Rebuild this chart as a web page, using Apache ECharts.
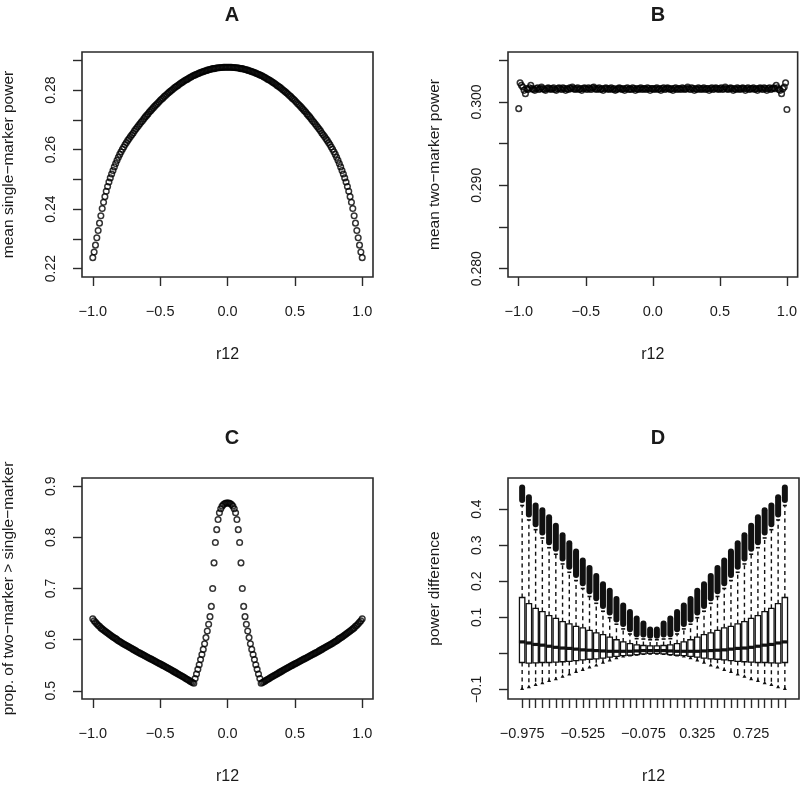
<!DOCTYPE html>
<html><head><meta charset="utf-8">
<script src="https://cdn.jsdelivr.net/npm/echarts@6/dist/echarts.min.js"></script>
<style>html,body{margin:0;padding:0;background:#fff}#c{width:800px;height:786px}</style>
</head><body><div id="c"></div>
<script>
// ---------- data ----------
const r12 = [
-1.00,-0.99,-0.98,-0.97,-0.96,-0.95,-0.94,-0.93,-0.92,-0.91,
-0.90,-0.89,-0.88,-0.87,-0.86,-0.85,-0.84,-0.83,-0.82,-0.81,
-0.80,-0.79,-0.78,-0.77,-0.76,-0.75,-0.74,-0.73,-0.72,-0.71,
-0.70,-0.69,-0.68,-0.67,-0.66,-0.65,-0.64,-0.63,-0.62,-0.61,
-0.60,-0.59,-0.58,-0.57,-0.56,-0.55,-0.54,-0.53,-0.52,-0.51,
-0.50,-0.49,-0.48,-0.47,-0.46,-0.45,-0.44,-0.43,-0.42,-0.41,
-0.40,-0.39,-0.38,-0.37,-0.36,-0.35,-0.34,-0.33,-0.32,-0.31,
-0.30,-0.29,-0.28,-0.27,-0.26,-0.25,-0.24,-0.23,-0.22,-0.21,
-0.20,-0.19,-0.18,-0.17,-0.16,-0.15,-0.14,-0.13,-0.12,-0.11,
-0.10,-0.09,-0.08,-0.07,-0.06,-0.05,-0.04,-0.03,-0.02,-0.01,
0.00,
0.01,0.02,0.03,0.04,0.05,0.06,0.07,0.08,0.09,0.10,
0.11,0.12,0.13,0.14,0.15,0.16,0.17,0.18,0.19,0.20,
0.21,0.22,0.23,0.24,0.25,0.26,0.27,0.28,0.29,0.30,
0.31,0.32,0.33,0.34,0.35,0.36,0.37,0.38,0.39,0.40,
0.41,0.42,0.43,0.44,0.45,0.46,0.47,0.48,0.49,0.50,
0.51,0.52,0.53,0.54,0.55,0.56,0.57,0.58,0.59,0.60,
0.61,0.62,0.63,0.64,0.65,0.66,0.67,0.68,0.69,0.70,
0.71,0.72,0.73,0.74,0.75,0.76,0.77,0.78,0.79,0.80,
0.81,0.82,0.83,0.84,0.85,0.86,0.87,0.88,0.89,0.90,
0.91,0.92,0.93,0.94,0.95,0.96,0.97,0.98,0.99,1.00];

// Panel A: mean single-marker power
const meanSinglePower = [
0.2237,0.2256,0.2279,0.2304,0.2328,0.2353,0.2378,0.2402,0.2423,0.2442,
0.2460,0.2476,0.2491,0.2505,0.2518,0.2530,0.2542,0.2553,0.2564,0.2574,
0.2584,0.2593,0.2601,0.2609,0.2617,0.2624,0.2631,0.2637,0.2644,0.2650,
0.2656,0.2663,0.2669,0.2675,0.2681,0.2687,0.2693,0.2698,0.2704,0.2710,
0.2715,0.2720,0.2726,0.2731,0.2736,0.2741,0.2746,0.2751,0.2755,0.2760,
0.2765,0.2769,0.2773,0.2778,0.2782,0.2786,0.2790,0.2794,0.2798,0.2801,
0.2805,0.2809,0.2812,0.2815,0.2819,0.2822,0.2825,0.2828,0.2831,0.2834,
0.2836,0.2839,0.2842,0.2844,0.2847,0.2849,0.2851,0.2853,0.2855,0.2857,
0.2859,0.2861,0.2862,0.2864,0.2865,0.2867,0.2868,0.2869,0.2871,0.2872,
0.2872,0.2873,0.2874,0.2875,0.2875,0.2876,0.2876,0.2877,0.2877,0.2877,
0.2877,
0.2877,0.2877,0.2877,0.2876,0.2876,0.2875,0.2875,0.2874,0.2873,0.2872,
0.2872,0.2871,0.2869,0.2868,0.2867,0.2865,0.2864,0.2862,0.2861,0.2859,
0.2857,0.2855,0.2853,0.2851,0.2849,0.2847,0.2844,0.2842,0.2839,0.2836,
0.2834,0.2831,0.2828,0.2825,0.2822,0.2819,0.2815,0.2812,0.2809,0.2805,
0.2801,0.2798,0.2794,0.2790,0.2786,0.2782,0.2778,0.2773,0.2769,0.2765,
0.2760,0.2755,0.2751,0.2746,0.2741,0.2736,0.2731,0.2726,0.2720,0.2715,
0.2710,0.2704,0.2698,0.2693,0.2687,0.2681,0.2675,0.2669,0.2663,0.2656,
0.2650,0.2644,0.2637,0.2631,0.2624,0.2617,0.2609,0.2601,0.2593,0.2584,
0.2574,0.2564,0.2553,0.2542,0.2530,0.2518,0.2505,0.2491,0.2476,0.2460,
0.2442,0.2423,0.2402,0.2378,0.2353,0.2328,0.2304,0.2279,0.2256,0.2237];

// Panel B: mean two-marker power
const meanTwoPower = [
0.2992,0.3023,0.3020,0.3018,0.3014,0.3010,0.3016,0.3015,0.3017,0.3020,
0.3016,0.3015,0.3014,0.3016,0.3017,0.3015,0.3016,0.3018,0.3016,0.3015,
0.3014,0.3016,0.3017,0.3016,0.3015,0.3016,0.3017,0.3015,0.3014,0.3016,
0.3017,0.3016,0.3015,0.3017,0.3016,0.3014,0.3016,0.3015,0.3017,0.3016,
0.3018,0.3016,0.3015,0.3016,0.3017,0.3015,0.3016,0.3014,0.3016,0.3017,
0.3016,0.3015,0.3017,0.3016,0.3015,0.3017,0.3018,0.3016,0.3015,0.3016,
0.3017,0.3015,0.3016,0.3014,0.3016,0.3017,0.3016,0.3015,0.3016,0.3017,
0.3015,0.3016,0.3014,0.3015,0.3016,0.3017,0.3016,0.3015,0.3016,0.3014,
0.3016,0.3017,0.3015,0.3016,0.3015,0.3017,0.3016,0.3014,0.3016,0.3015,
0.3016,0.3017,0.3015,0.3016,0.3016,0.3015,0.3017,0.3016,0.3014,0.3016,
0.3016,
0.3015,0.3016,0.3017,0.3015,0.3016,0.3014,0.3016,0.3017,0.3015,0.3016,
0.3017,0.3016,0.3015,0.3016,0.3014,0.3016,0.3017,0.3015,0.3016,0.3016,
0.3015,0.3017,0.3016,0.3015,0.3016,0.3018,0.3016,0.3015,0.3017,0.3016,
0.3014,0.3016,0.3015,0.3017,0.3016,0.3015,0.3016,0.3017,0.3015,0.3016,
0.3016,0.3014,0.3016,0.3017,0.3015,0.3016,0.3017,0.3016,0.3015,0.3016,
0.3017,0.3015,0.3016,0.3018,0.3016,0.3015,0.3016,0.3017,0.3016,0.3014,
0.3016,0.3015,0.3017,0.3016,0.3015,0.3016,0.3017,0.3016,0.3014,0.3016,
0.3017,0.3015,0.3016,0.3016,0.3017,0.3015,0.3016,0.3014,0.3016,0.3017,
0.3016,0.3015,0.3017,0.3016,0.3014,0.3016,0.3017,0.3015,0.3016,0.3017,
0.3016,0.3020,0.3017,0.3015,0.3014,0.3010,0.3016,0.3018,0.3023,0.2991];

// Panel C: proportion two-marker > single-marker
const propTwoGtSingle = [
0.641,0.637,0.634,0.631,0.628,0.626,0.623,0.621,0.619,0.617,
0.615,0.613,0.611,0.609,0.607,0.605,0.6035,0.602,0.600,0.598,
0.5965,0.595,0.593,0.5915,0.590,0.5885,0.587,0.5855,0.584,0.5825,
0.581,0.5795,0.578,0.5765,0.575,0.5736,0.5722,0.5708,0.5694,0.568,
0.5666,0.5652,0.5638,0.5624,0.561,0.5596,0.5582,0.5568,0.5554,0.554,
0.5526,0.5512,0.5497,0.5483,0.5468,0.5454,0.5439,0.5425,0.5410,0.5395,
0.5380,0.5365,0.5350,0.5335,0.5320,0.5305,0.5289,0.5274,0.5258,0.5242,
0.5226,0.5210,0.5194,0.5178,0.5162,0.5148,0.524,0.533,0.542,0.551,
0.561,0.571,0.581,0.592,0.604,0.617,0.630,0.645,0.665,0.700,
0.750,0.790,0.815,0.835,0.848,0.856,0.861,0.864,0.866,0.867,
0.867,
0.867,0.866,0.864,0.861,0.856,0.848,0.835,0.815,0.790,0.750,
0.700,0.665,0.645,0.630,0.617,0.604,0.592,0.581,0.571,0.561,
0.551,0.542,0.533,0.524,0.5148,0.5162,0.5178,0.5194,0.5210,0.5226,
0.5242,0.5258,0.5274,0.5289,0.5305,0.5320,0.5335,0.5350,0.5365,0.5380,
0.5395,0.5410,0.5425,0.5439,0.5454,0.5468,0.5483,0.5497,0.5512,0.5526,
0.554,0.5554,0.5568,0.5582,0.5596,0.561,0.5624,0.5638,0.5652,0.5666,
0.568,0.5694,0.5708,0.5722,0.5736,0.575,0.5765,0.578,0.5795,0.581,
0.5825,0.584,0.5855,0.587,0.5885,0.590,0.5915,0.593,0.595,0.5965,
0.598,0.600,0.602,0.6035,0.605,0.607,0.609,0.611,0.613,0.615,
0.617,0.619,0.621,0.623,0.626,0.628,0.631,0.634,0.637,0.641];

// Panel D: boxplots of power difference by r12 group
const dGroups = [-0.975,-0.925,-0.875,-0.825,-0.775,-0.725,-0.675,-0.625,-0.575,-0.525,
-0.475,-0.425,-0.375,-0.325,-0.275,-0.225,-0.175,-0.125,-0.075,-0.025,
0.025,0.075,0.125,0.175,0.225,0.275,0.325,0.375,0.425,0.475,
0.525,0.575,0.625,0.675,0.725,0.775,0.825,0.875,0.925,0.975];
const dLowWhisker = [-0.100,-0.095,-0.089,-0.084,-0.078,-0.073,-0.066,-0.060,-0.053,-0.047,
-0.040,-0.035,-0.027,-0.021,-0.015,-0.010,-0.007,-0.005,-0.003,-0.002,
-0.002,-0.003,-0.005,-0.007,-0.010,-0.015,-0.021,-0.027,-0.035,-0.040,
-0.047,-0.053,-0.060,-0.066,-0.073,-0.078,-0.084,-0.089,-0.095,-0.100];
const dQ1 = [-0.025,-0.027,-0.026,-0.025,-0.025,-0.024,-0.023,-0.022,-0.020,-0.018,
-0.016,-0.015,-0.013,-0.010,-0.008,-0.006,-0.005,-0.003,-0.001,0.000,
0.000,-0.001,-0.003,-0.005,-0.006,-0.008,-0.010,-0.013,-0.015,-0.016,
-0.018,-0.020,-0.022,-0.023,-0.024,-0.025,-0.025,-0.026,-0.027,-0.025];
const dMedian = [0.032,0.029,0.025,0.023,0.020,0.017,0.015,0.014,0.012,0.010,
0.009,0.008,0.007,0.006,0.006,0.006,0.006,0.007,0.008,0.008,
0.008,0.008,0.007,0.006,0.006,0.006,0.006,0.007,0.008,0.009,
0.010,0.012,0.014,0.015,0.017,0.020,0.023,0.025,0.029,0.032];
const dQ3 = [0.155,0.138,0.125,0.116,0.105,0.097,0.088,0.082,0.075,0.071,
0.064,0.057,0.052,0.045,0.038,0.032,0.027,0.024,0.022,0.021,
0.021,0.022,0.024,0.027,0.032,0.038,0.045,0.052,0.057,0.064,
0.071,0.075,0.082,0.088,0.097,0.105,0.116,0.125,0.138,0.155];
const dUpWhisker = [0.410,0.370,0.343,0.320,0.293,0.275,0.248,0.225,0.202,0.180,
0.158,0.139,0.117,0.099,0.081,0.068,0.054,0.041,0.040,0.038,
0.038,0.040,0.041,0.054,0.068,0.081,0.099,0.117,0.139,0.158,
0.180,0.202,0.225,0.248,0.275,0.293,0.320,0.343,0.370,0.410];
const dOutlierLow = [0.417,0.377,0.350,0.327,0.300,0.282,0.255,0.232,0.209,0.186,
0.164,0.145,0.123,0.105,0.086,0.073,0.059,0.045,0.044,0.041,
0.041,0.044,0.045,0.059,0.073,0.086,0.105,0.123,0.145,0.164,
0.186,0.209,0.232,0.255,0.282,0.300,0.327,0.350,0.377,0.417];
const dOutlierHigh = [0.468,0.441,0.418,0.405,0.386,0.362,0.336,0.314,0.291,0.266,
0.245,0.223,0.200,0.182,0.159,0.141,0.123,0.105,0.091,0.075,
0.075,0.091,0.105,0.123,0.141,0.159,0.182,0.200,0.223,0.245,
0.266,0.291,0.314,0.336,0.362,0.386,0.405,0.418,0.441,0.468];

// tick values / labels
const xTicksR = [-1, -0.5, 0, 0.5, 1];
const aYTicks = [0.22, 0.23, 0.24, 0.25, 0.26, 0.27, 0.28, 0.29];
const aYLabels = [0.22, 0.24, 0.26, 0.28];
const bYTicks = [0.280, 0.285, 0.290, 0.295, 0.300, 0.305];
const bYLabels = [0.280, 0.290, 0.300];
const cYTicks = [0.5, 0.6, 0.7, 0.8, 0.9];
const dYTicks = [-0.1, 0, 0.1, 0.2, 0.3, 0.4];
const dYLabels = [-0.1, 0.1, 0.2, 0.3, 0.4];
const dXLabels = [-0.975, -0.525, -0.075, 0.325, 0.725];

// ---------- chart ----------
const FF = "'Liberation Sans', Arial, Helvetica, sans-serif";
const INK = '#1a1a1a';
const minus = s => s.replace('-', '\u2212');

const grids = [
  {left: 82, top: 52, width: 291, height: 225},
  {left: 508, top: 52, width: 291, height: 225},
  {left: 82, top: 478, width: 291, height: 225},
  {left: 508, top: 478, width: 291, height: 225}
].map(g => Object.assign(g, {show: true, borderColor: '#2a2a2a', borderWidth: 1.6, backgroundColor: 'transparent'}));

function xAxis(gi, min, max, ticks, labels, dec) {
  return {
    type: 'value', gridIndex: gi, min: min, max: max,
    axisLine: {show: false, onZero: false}, splitLine: {show: false},
    axisTick: {show: true, inside: false, length: 9, customValues: ticks, lineStyle: {color: '#2a2a2a', width: 1.4}},
    axisLabel: {show: true, customValues: labels, margin: 27, color: INK, fontSize: 14.5, fontFamily: FF,
      formatter: v => minus(Number(v).toFixed(dec))},
    name: 'r12', nameLocation: 'middle', nameGap: 70,
    nameTextStyle: {color: INK, fontSize: 16, fontFamily: FF}
  };
}
function yAxis(gi, min, max, ticks, labels, dec, name) {
  return {
    type: 'value', gridIndex: gi, min: min, max: max,
    axisLine: {show: false, onZero: false}, splitLine: {show: false},
    axisTick: {show: true, inside: false, length: 9, customValues: ticks, lineStyle: {color: '#2a2a2a', width: 1.4}},
    axisLabel: {show: true, customValues: labels, margin: 24, rotate: 90, color: INK, fontSize: 14, fontFamily: FF,
      formatter: v => minus(Number(v).toFixed(dec))},
    name: name, nameLocation: 'middle', nameGap: 65,
    nameTextStyle: {color: INK, fontSize: 15.5, fontFamily: FF}
  };
}

const circleStyle = {color: 'rgba(0,0,0,0)', borderColor: '#000', borderWidth: 1.5};
function scatter(i, ys) {
  return {
    type: 'scatter', xAxisIndex: i, yAxisIndex: i, symbol: 'circle', symbolSize: 5.6,
    itemStyle: circleStyle, silent: true, animation: false,
    data: r12.map((x, k) => [x, ys[k]])
  };
}

const boxData = dGroups.map((x, k) => [x, dLowWhisker[k], dQ1[k], dMedian[k], dQ3[k], dUpWhisker[k], dOutlierLow[k], dOutlierHigh[k]]);

function renderBox(params, api) {
  const x = api.value(0);
  const lw = api.value(1), q1 = api.value(2), md = api.value(3), q3 = api.value(4), uw = api.value(5);
  const ol = api.value(6), oh = api.value(7);
  const c = api.coord([x, q1]);
  const cx = c[0];
  const half = api.coord([x + 0.02, q1])[0] - cx;
  const cap = 2;
  const yq1 = c[1], yq3 = api.coord([x, q3])[1], ymd = api.coord([x, md])[1];
  const ylw = api.coord([x, lw])[1], yuw = api.coord([x, uw])[1];
  const yol = api.coord([x, ol])[1], yoh = api.coord([x, oh])[1];
  const dash = {stroke: '#111', lineWidth: 1.4, lineDash: [4, 3.5]};
  const solid = {stroke: '#111', lineWidth: 1.6};
  const rad = 3;
  let oTop = yoh + rad, oBot = yol - rad;
  if (oBot < oTop) { const m = (oTop + oBot) / 2; oTop = m; oBot = m; }
  return {
    type: 'group',
    children: [
      {type: 'line', shape: {x1: cx, y1: yq3, x2: cx, y2: yuw}, style: dash},
      {type: 'line', shape: {x1: cx, y1: yq1, x2: cx, y2: ylw}, style: dash},
      {type: 'line', shape: {x1: cx - cap, y1: yuw, x2: cx + cap, y2: yuw}, style: solid},
      {type: 'polygon', shape: {points: [[cx - cap, ylw + 0.5], [cx + cap, ylw + 0.5], [cx, ylw - 3]]},
        style: {fill: '#111'}},
      {type: 'line', shape: {x1: cx, y1: oTop, x2: cx, y2: oBot},
        style: {stroke: '#111', lineWidth: 6, lineCap: 'round'}},
      {type: 'rect', shape: {x: cx - half, y: yq3, width: half * 2, height: yq1 - yq3},
        style: {fill: '#fff', stroke: '#111', lineWidth: 1.3}},
      {type: 'line', shape: {x1: cx - half - 0.5, y1: ymd, x2: cx + half + 0.5, y2: ymd},
        style: {stroke: '#111', lineWidth: 3.2}}
    ]
  };
}

const titleStyle = {fontSize: 20, fontWeight: 'bold', color: INK, fontFamily: FF};
const option = {
  backgroundColor: '#fff',
  animation: false,
  title: [
    {text: 'A', left: 227, top: 0, textAlign: 'center', textStyle: titleStyle},
    {text: 'B', left: 653, top: 0, textAlign: 'center', textStyle: titleStyle},
    {text: 'C', left: 227, top: 423, textAlign: 'center', textStyle: titleStyle},
    {text: 'D', left: 653, top: 423, textAlign: 'center', textStyle: titleStyle}
  ],
  grid: grids,
  xAxis: [
    xAxis(0, -1.08, 1.08, xTicksR, xTicksR, 1),
    xAxis(1, -1.08, 1.08, xTicksR, xTicksR, 1),
    xAxis(2, -1.08, 1.08, xTicksR, xTicksR, 1),
    xAxis(3, -1.08, 1.08, dGroups, dXLabels, 3)
  ],
  yAxis: [
    yAxis(0, 0.2172, 0.2928, aYTicks, aYLabels, 2, 'mean single\u2212marker power'),
    yAxis(1, 0.279, 0.306, bYTicks, bYLabels, 3, 'mean two\u2212marker power'),
    yAxis(2, 0.484, 0.916, cYTicks, cYTicks, 1, 'prop. of two\u2212marker > single\u2212marker'),
    yAxis(3, -0.1262, 0.4862, dYTicks, dYLabels, 1, 'power difference')
  ],
  series: [
    scatter(0, meanSinglePower),
    scatter(1, meanTwoPower),
    scatter(2, propTwoGtSingle),
    {
      type: 'custom', xAxisIndex: 3, yAxisIndex: 3, silent: true,
      renderItem: renderBox,
      encode: {x: 0, y: [1, 2, 3, 4, 5, 6, 7]},
      data: boxData
    }
  ]
};
const chart = echarts.init(document.getElementById('c'), null, {renderer: 'canvas'});
chart.setOption(option);
</script>
</body></html>
